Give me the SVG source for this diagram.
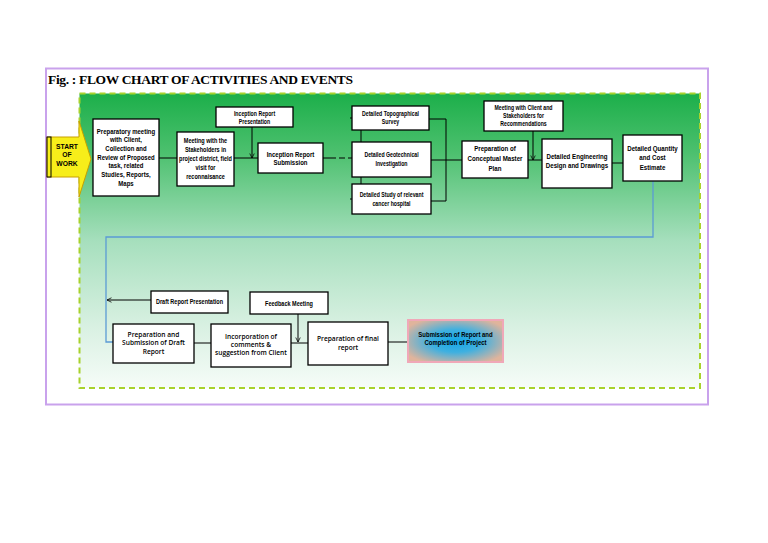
<svg xmlns="http://www.w3.org/2000/svg" width="768" height="543" viewBox="0 0 768 543">
<defs>
<linearGradient id="bg" x1="0" y1="0" x2="0" y2="1">
<stop offset="0" stop-color="#1caf4a"/>
<stop offset="0.2" stop-color="#4cc06e"/>
<stop offset="0.5" stop-color="#a6dfbd"/>
<stop offset="0.8" stop-color="#daf1e3"/>
<stop offset="1" stop-color="#f6fcf8"/>
</linearGradient>
<radialGradient id="sub" cx="0.5" cy="0.5" r="0.6">
<stop offset="0" stop-color="#12a6e6"/>
<stop offset="0.45" stop-color="#3fb0e0"/>
<stop offset="1" stop-color="#e0b49c"/>
</radialGradient>
<marker id="ah" viewBox="0 0 8 8" refX="7" refY="4" markerWidth="6" markerHeight="6" orient="auto" markerUnits="userSpaceOnUse">
<path d="M1,1 L7,4 L1,7" fill="none" stroke="#000" stroke-width="1"/>
</marker>
<style>
.box{fill:#fff;stroke:#000;stroke-width:1.3}
.ln{fill:none;stroke:#000;stroke-width:1}
.bl{fill:none;stroke:#5b9bd5;stroke-width:1.3}
.t{font-family:"Liberation Sans",Arial,sans-serif;font-weight:bold;font-size:7.5px;text-anchor:middle;fill:#000}
.s{font-size:6.5px}
.c{font-family:"Open Sans","Liberation Sans",sans-serif;font-weight:600;font-size:6.6px;text-anchor:middle;fill:#000}
</style>
</defs>
<rect width="768" height="543" fill="#fff"/>
<rect x="46" y="68.5" width="662" height="336" fill="none" stroke="#c9a2ec" stroke-width="2"/>
<text x="48" y="84" font-family="'Liberation Serif',serif" font-weight="bold" font-size="13.5" textLength="305" lengthAdjust="spacing">Fig. : FLOW CHART OF ACTIVITIES AND EVENTS</text>
<rect x="79.5" y="93.5" width="620.5" height="294.5" fill="url(#bg)" stroke="#a8d22c" stroke-width="2" stroke-dasharray="6,4"/>

<g id="start">
<path d="M47,137 H79 V121 L91,159 L79,197 V177 H47 Z" fill="#f7ee1a" stroke="#c8a000" stroke-width="1"/>
<rect x="47" y="137" width="4" height="40" fill="#f7ee1a" stroke="#000" stroke-width="1"/>
<g class="t" transform="translate(67 0) scale(0.9 1)">
<text y="149">START</text>
<text y="157.5">OF</text>
<text y="166">WORK</text>
</g>
</g>

<g id="connectors">
<line class="ln" x1="159" y1="158" x2="177" y2="158"/>
<line class="ln" x1="234" y1="158" x2="258" y2="158"/>
<line class="ln" x1="252" y1="127" x2="252" y2="158" marker-end="url(#ah)"/>
<line class="ln" x1="323" y1="158" x2="352" y2="158" stroke-dasharray="13,3,6,3"/>
<polyline class="ln" points="350,118 361,118 361,199 350,199"/>
<polyline class="ln" points="429,119 446,119 446,201 431,201"/>
<line class="ln" x1="431" y1="160" x2="462" y2="160"/>
<line class="ln" x1="528" y1="160" x2="542" y2="160"/>
<line class="ln" x1="533" y1="131" x2="533" y2="160" marker-end="url(#ah)"/>
<line class="ln" x1="612" y1="163" x2="623" y2="163"/>
<polyline class="bl" points="653,181 653,237 106,237 106,342 113,342"/>
<line class="ln" x1="151" y1="300" x2="107" y2="300" marker-end="url(#ah)"/>
<line class="ln" x1="194" y1="343" x2="211" y2="343"/>
<line class="ln" x1="291" y1="343" x2="308" y2="343"/>
<line class="ln" x1="298" y1="314" x2="298" y2="342" marker-end="url(#ah)"/>
<line class="ln" x1="388" y1="342" x2="407" y2="342"/>
</g>

<g id="prep">
<rect class="box" x="93" y="119" width="66" height="77"/>
<g class="t" transform="translate(126 0) scale(0.8 1)">
<text y="134">Preparatory meeting</text>
<text y="142.5">with Client,</text>
<text y="151">Collection and</text>
<text y="160">Review of Proposed</text>
<text y="168.5">task, related</text>
<text y="177">Studies, Reports,</text>
<text y="186">Maps</text>
</g>
</g>
<g id="meet">
<rect class="box" x="177" y="132" width="57" height="54"/>
<g class="t" transform="translate(205.5 0) scale(0.74 1)">
<text y="143">Meeting with the</text>
<text y="152">Stakeholders in</text>
<text y="161">project district, field</text>
<text y="170">visit for</text>
<text y="179.5">reconnaisance</text>
</g>
</g>
<g id="incpres">
<rect class="box" x="216" y="107" width="77" height="20"/>
<g class="t s" transform="translate(254.5 0) scale(0.8 1)">
<text y="116">Inception Report</text>
<text y="124">Presentation</text>
</g>
</g>
<g id="incsub">
<rect class="box" x="258" y="143" width="65" height="30"/>
<g class="t" transform="translate(290.5 0) scale(0.8 1)">
<text y="157">Inception Report</text>
<text y="165.5">Submission</text>
</g>
</g>
<g id="topo">
<rect class="box" x="352" y="106" width="77" height="24"/>
<g class="t s" transform="translate(390.5 0) scale(0.8 1)">
<text y="116">Detailed Topographical</text>
<text y="124.5">Survey</text>
</g>
</g>
<g id="geo">
<rect class="box" x="352" y="142" width="79" height="35"/>
<g class="t s" transform="translate(391.5 0) scale(0.8 1)">
<text y="157.5">Detailed Geotechnical</text>
<text y="166.5">Investigation</text>
</g>
</g>
<g id="cancer">
<rect class="box" x="352" y="184" width="79" height="30"/>
<g class="t s" transform="translate(391.5 0) scale(0.8 1)">
<text y="197.5">Detailed Study of relevant</text>
<text y="206">cancer hospital</text>
</g>
</g>
<g id="concept">
<rect class="box" x="462" y="141" width="66" height="37"/>
<g class="t" transform="translate(495 0) scale(0.82 1)">
<text y="151">Preparation of</text>
<text y="161">Conceptual Master</text>
<text y="171">Plan</text>
</g>
</g>
<g id="meetclient">
<rect class="box" x="484" y="101" width="79" height="30"/>
<g class="t s" transform="translate(523.5 0) scale(0.8 1)">
<text y="110.5">Meeting with Client and</text>
<text y="118.5">Stakeholders for</text>
<text y="126.5">Recommendations</text>
</g>
</g>
<g id="eng">
<rect class="box" x="542" y="139" width="70" height="49"/>
<g class="t" transform="translate(577 0) scale(0.82 1)">
<text y="159">Detailed Engineering</text>
<text y="168">Design and Drawings</text>
</g>
</g>
<g id="qty">
<rect class="box" x="623" y="135" width="59" height="46"/>
<g class="t" transform="translate(652.5 0) scale(0.82 1)">
<text y="151">Detailed Quantity</text>
<text y="160.5">and Cost</text>
<text y="170">Estimate</text>
</g>
</g>
<g id="draftpres">
<rect class="box" x="151" y="291" width="77" height="22"/>
<g class="t s" transform="translate(189.5 0) scale(0.85 1)">
<text y="304.5">Draft Report Presentation</text>
</g>
</g>
<g id="draft">
<rect class="box" x="113" y="324" width="81" height="39"/>
<text class="c" x="153.5" y="337">Preparation and</text>
<text class="c" x="153.5" y="345">Submission of Draft</text>
<text class="c" x="153.5" y="353.5">Report</text>
</g>
<g id="incorp">
<rect class="box" x="211" y="324" width="80" height="43"/>
<text class="c" x="251" y="339">Incorporation of</text>
<text class="c" x="251" y="347">comments &amp;</text>
<text class="c" x="251" y="355">suggestion from Client</text>
</g>
<g id="feedback">
<rect class="box" x="250" y="292" width="78" height="22"/>
<g class="t s" transform="translate(289 0) scale(0.85 1)">
<text y="306">Feedback Meeting</text>
</g>
</g>
<g id="final">
<rect class="box" x="308" y="322" width="80" height="43"/>
<text class="c" x="348" y="341">Preparation of final</text>
<text class="c" x="348" y="349.5">report</text>
</g>
<g id="submission">
<rect x="408" y="320" width="95" height="42" fill="url(#sub)" stroke="#f0a8b8" stroke-width="2"/>
<g class="t s" transform="translate(455.5 0) scale(0.92 1)">
<text y="337.5">Submission of Report and</text>
<text y="345.5">Completion of Project</text>
</g>
</g>
</svg>
